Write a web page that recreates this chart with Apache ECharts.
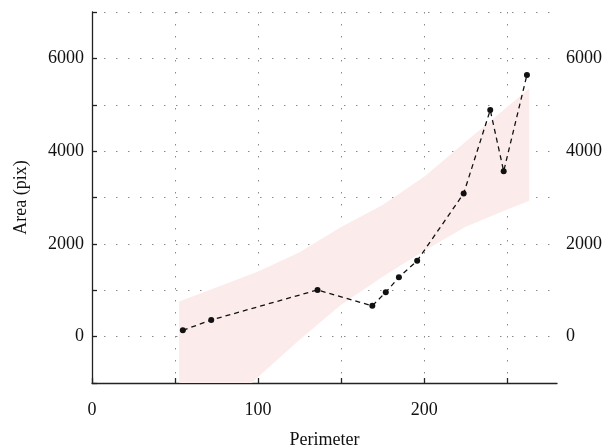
<!DOCTYPE html>
<html>
<head>
<meta charset="utf-8">
<script src="https://cdn.jsdelivr.net/npm/echarts@6/dist/echarts.min.js"></script>
<style>
  html, body { margin: 0; padding: 0; background: #fff; }
  #chart { width: 608px; height: 448px; }
</style>
</head>
<body>
<div id="chart"></div>
<script>
// measured points
var perimeter = [54.7, 71.8, 135.8, 168.8, 176.9, 184.8, 195.8, 223.8, 239.8, 247.9, 261.9];
var area = [137, 358, 1007, 664, 958, 1279, 1637, 3086, 4886, 3566, 5644];

// shaded band
var bandX = [52.5, 72, 100, 125, 150, 175, 200, 225, 250, 263.3];
var bandLow = [-2650, -1850, -870, -65, 690, 1290, 1850, 2370, 2740, 2930];
var bandHigh = [760, 1020, 1404, 1821, 2366, 2840, 3447, 4200, 4950, 5348];

var xTicks = [0, 50, 100, 150, 200, 250];
var xTickLabels = [0, 100, 200];
var yTickLabels = [0, 2000, 4000, 6000];

var font = 'Liberation Serif';

var pts = [];
for (var i = 0; i < perimeter.length; i++) {
    pts.push([perimeter[i], area[i]]);
}
var bandData = [];
for (var i = 0; i < bandX.length; i++) {
    bandData.push([bandX[i], bandLow[i], bandHigh[i]]);
}

var dotted = { color: '#8a8a8a', width: 1, type: [1.5, 10.5] };
var plain = function (v) { return String(v); };

function renderBand(params, api) {
    if (params.dataIndex !== 0) return;
    var top = [], bottom = [];
    for (var i = 0; i < bandData.length; i++) {
        top.push(api.coord([bandData[i][0], bandData[i][2]]));
        bottom.unshift(api.coord([bandData[i][0], bandData[i][1]]));
    }
    var cs = params.coordSys;
    return {
        type: 'polygon',
        shape: { points: top.concat(bottom) },
        style: { fill: '#fcebeb' },
        clipPath: { type: 'rect', shape: { x: cs.x, y: cs.y, width: cs.width, height: cs.height } },
        silent: true
    };
}

var myChart = echarts.init(document.getElementById('chart'));
var option = {
    animation: false,
    grid: { left: 92, right: 51, top: 12, bottom: 65, containLabel: false, outerBoundsMode: 'none' },
    xAxis: {
        type: 'value',
        min: 0, max: 280,
        name: 'Perimeter',
        nameLocation: 'middle',
        nameGap: 48,
        nameTextStyle: { fontFamily: font, fontSize: 18, color: '#111' },
        axisLine: { show: true, onZero: false, lineStyle: { color: '#222', width: 1.3 } },
        axisTick: { show: true, inside: true, length: 5, customValues: xTicks, lineStyle: { color: '#222', width: 1.3 } },
        axisLabel: { fontFamily: font, fontSize: 18, color: '#111', margin: 18, customValues: xTickLabels, formatter: plain },
        splitLine: { show: true, lineStyle: dotted }
    },
    yAxis: [{
        type: 'value',
        min: -1000, max: 7000, interval: 1000,
        name: 'Area (pix)',
        nameLocation: 'middle',
        nameGap: 62,
        nameTextStyle: { fontFamily: font, fontSize: 18, color: '#111' },
        axisLine: { show: true, lineStyle: { color: '#222', width: 1.3 } },
        axisTick: { show: true, inside: true, length: 5, lineStyle: { color: '#222', width: 1.3 } },
        axisLabel: { fontFamily: font, fontSize: 18, color: '#111', margin: 8, customValues: yTickLabels, formatter: plain },
        splitLine: { show: true, lineStyle: dotted }
    }, {
        type: 'value',
        position: 'right',
        min: -1000, max: 7000, interval: 1000,
        axisLine: { show: false },
        axisTick: { show: false },
        axisLabel: { fontFamily: font, fontSize: 18, color: '#111', margin: 9, customValues: yTickLabels, formatter: plain },
        splitLine: { show: false }
    }],
    series: [
        {
            type: 'custom',
            data: bandData,
            renderItem: renderBand,
            silent: true,
            z: 1
        },
        {
            type: 'line',
            data: pts,
            symbol: 'circle',
            symbolSize: 6,
            itemStyle: { color: '#111' },
            lineStyle: { color: '#111', width: 1.3, type: [5, 4] },
            z: 5
        }
    ]
};
myChart.setOption(option);
</script>
</body>
</html>
